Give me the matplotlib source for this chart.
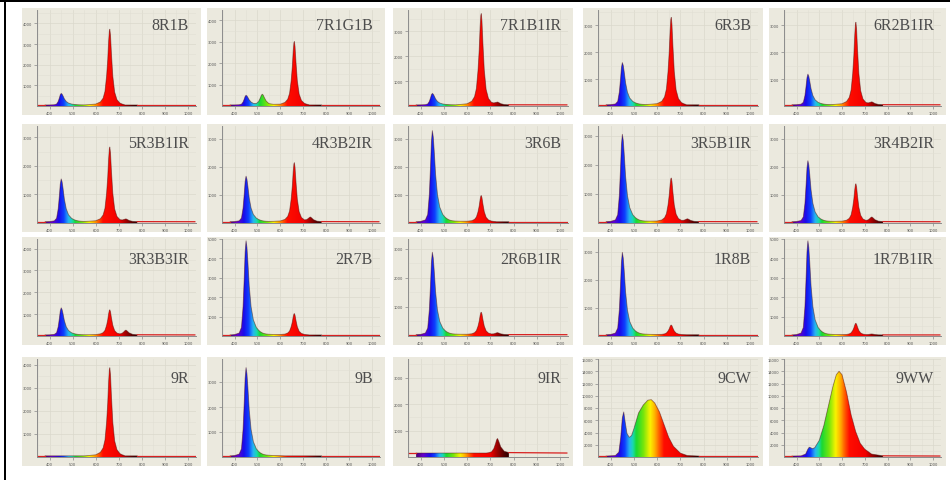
import numpy as np
import matplotlib.pyplot as plt
from matplotlib.colors import LinearSegmentedColormap
from matplotlib.patches import Polygon, Rectangle
from matplotlib.ticker import MultipleLocator

# panel names, read row by row
names = ["8R1B", "7R1G1B", "7R1B1IR", "6R3B", "6R2B1IR",
         "5R3B1IR", "4R3B2IR", "3R6B", "3R5B1IR", "3R4B2IR",
         "3R3B3IR", "2R7B", "2R6B1IR", "1R8B", "1R7B1IR",
         "9R", "9B", "9IR", "9CW", "9WW"]

# y axis top and tick step (counts)
ymax = [4650, 4480, 3850, 3570, 3570, 3400, 3450, 3450, 3330, 3450,
        4440, 5000, 3330, 3450, 5000, 4260, 3920, 3700, 16000, 16000]
ystep = [1000, 1000, 1000, 1000, 1000, 1000, 1000, 1000, 1000, 1000,
         1000, 1000, 1000, 1000, 1000, 1000, 1000, 1000, 2000, 2000]

# peak heights above baseline (counts) for each LED type
blue_h = [560, 450, 460, 1570, 1140, 1500, 1620, 3240, 3000, 2170,
          1240, 4850, 2830, 2930, 4850, 0, 3530, 0, 0, 0]
green_h = [0, 490, 0, 0, 0, 0, 0, 0, 0, 0,
           0, 0, 0, 0, 0, 0, 0, 0, 0, 0]
red_h = [3670, 2960, 3660, 3250, 3070, 2620, 2100, 930, 1500, 1350,
         1150, 1100, 770, 345, 600, 3830, 0, 0, 0, 0]
ir_h = [0, 0, 115, 0, 110, 100, 170, 0, 100, 170,
        220, 0, 70, 0, 50, 0, 0, 550, 0, 0]
base = [50, 50, 45, 45, 45, 45, 45, 45, 45, 45,
        50, 55, 45, 45, 55, 50, 45, 150, 160, 160]

# wavelength grid (nm) and relative LED shapes on it
wl = [350, 380, 400, 420, 430, 437, 442, 446, 450, 454, 458, 464, 472, 482, 495, 505,
      512, 517, 521, 525, 530, 538, 550, 570, 600, 620, 632, 640, 647, 652, 656, 659,
      661, 664, 668, 674, 682, 692, 705, 715, 722, 727, 731, 736, 745, 760, 780, 1030]
blue_shape = [0, 0, 0.004, 0.02, 0.08, 0.3, 0.6, 0.88, 1.0, 0.93, 0.78, 0.52, 0.3, 0.16, 0.08, 0.05,
              0.035, 0.028, 0.022, 0.018, 0.014, 0.01, 0.007, 0.004, 0.002, 0, 0, 0, 0, 0, 0, 0,
              0, 0, 0, 0, 0, 0, 0, 0, 0, 0, 0, 0, 0, 0, 0, 0]
green_shape = [0, 0, 0, 0, 0, 0, 0, 0, 0, 0, 0, 0, 0, 0, 0.06, 0.28,
               0.62, 0.9, 1.0, 0.92, 0.68, 0.36, 0.12, 0.03, 0, 0, 0, 0, 0, 0, 0, 0,
               0, 0, 0, 0, 0, 0, 0, 0, 0, 0, 0, 0, 0, 0, 0, 0]
red_shape = [0, 0, 0, 0, 0, 0, 0, 0, 0, 0, 0, 0, 0, 0, 0, 0,
             0, 0, 0, 0, 0, 0, 0, 0.004, 0.012, 0.04, 0.09, 0.18, 0.38, 0.6, 0.85, 0.98,
             1.0, 0.92, 0.68, 0.38, 0.17, 0.07, 0.025, 0.012, 0.006, 0, 0, 0, 0, 0, 0, 0]
ir_shape = [0, 0, 0, 0, 0, 0, 0, 0, 0, 0, 0, 0, 0, 0, 0, 0,
            0, 0, 0, 0, 0, 0, 0, 0, 0, 0, 0, 0, 0, 0, 0, 0,
            0, 0, 0, 0, 0, 0.02, 0.08, 0.3, 0.62, 0.9, 1.0, 0.82, 0.42, 0.12, 0.03, 0]

# white LED spectra (counts)
cw_wl = [350, 380, 420, 435, 443, 450, 456, 462, 470, 480, 490, 500, 520, 540, 560, 575,
         590, 610, 630, 650, 670, 700, 730, 780, 1030]
cw_val = [160, 160, 240, 800, 3200, 6400, 7360, 5760, 3840, 3200, 3520, 4640, 7200, 8480, 9280, 9360,
          8800, 7360, 5280, 3200, 1760, 640, 240, 160, 160]
ww_wl = [350, 380, 420, 440, 450, 456, 462, 470, 480, 500, 520, 540, 560, 575, 587, 600,
         620, 640, 660, 680, 700, 730, 780, 1030]
ww_val = [160, 160, 190, 480, 1280, 1600, 1520, 1360, 1520, 2720, 5120, 8320, 11520, 13440, 14000, 13440,
          10560, 6880, 4160, 2240, 1280, 480, 190, 160]

# layout in pixels
col_x = [(22, 201), (207, 385), (393, 573), (583, 763), (769, 946)]
row_y = [(9, 116), (125, 233), (238, 346), (358, 467)]
label_off = [21, 23, 26, 25]

W, H = 950, 481
panel_bg = "#EBE9DE"

stops = [(380, (0.30, 0.0, 0.45)), (410, (0.40, 0.0, 0.80)), (440, (0.10, 0.05, 0.92)),
         (460, (0.05, 0.25, 1.0)), (480, (0.15, 0.70, 0.95)), (495, (0.10, 0.85, 0.70)),
         (510, (0.10, 0.85, 0.20)), (540, (0.45, 0.90, 0.05)), (570, (0.98, 0.95, 0.0)),
         (590, (1.0, 0.70, 0.0)), (610, (1.0, 0.35, 0.0)), (630, (1.0, 0.05, 0.0)),
         (700, (0.95, 0.0, 0.0)), (730, (0.62, 0.0, 0.0)), (760, (0.32, 0.0, 0.0)),
         (780, (0.18, 0.0, 0.0))]
spec_cmap = LinearSegmentedColormap.from_list("spec", [((w - 380) / 400, c) for w, c in stops])
grad = np.linspace(380, 780, 400)[None, :]


def rect(x0, y0, x1, y1):
    return [x0 / W, 1 - y1 / H, (x1 - x0) / W, (y1 - y0) / H]


fig = plt.figure(figsize=(9.5, 4.81), dpi=100)
fig.patch.set_facecolor("white")

for i, name in enumerate(names):
    r, c = divmod(i, 5)
    L, R = col_x[c]
    T, B = row_y[r]

    bg = fig.add_axes(rect(L, T, R, B))
    bg.set_facecolor(panel_bg)
    bg.set_xticks([])
    bg.set_yticks([])
    for s in bg.spines.values():
        s.set_visible(False)

    ax = fig.add_axes(rect(L + 15, T + 2, R - 5, B - 9))
    ax.set_facecolor("none")

    if name == "9CW":
        x, y = np.array(cw_wl), np.array(cw_val, dtype=float)
    elif name == "9WW":
        x, y = np.array(ww_wl), np.array(ww_val, dtype=float)
    else:
        x = np.array(wl)
        y = (base[i] + blue_h[i] * np.array(blue_shape) + green_h[i] * np.array(green_shape)
             + red_h[i] * np.array(red_shape) + ir_h[i] * np.array(ir_shape))

    vis = (x >= 380) & (x <= 780)
    verts = [(380, 0)] + list(zip(x[vis], y[vis])) + [(780, 0)]
    poly = Polygon(verts, closed=True, fc="none", ec="none")
    ax.add_patch(poly)
    im = ax.imshow(grad, extent=[380, 780, 0, ymax[i]], aspect="auto", cmap=spec_cmap,
                   vmin=380, vmax=780, origin="lower", zorder=2)
    im.set_clip_path(poly)
    ax.plot(x[vis], y[vis], color="#4A0808", lw=0.6, alpha=0.5, zorder=3)
    ax.plot(x[x >= 780], y[x >= 780], color="#D82020", lw=0.9, zorder=3)
    ax.plot(x[x <= 380], y[x <= 380], color="#D82020", lw=0.9, zorder=3)

    ax.set_xlim(345, 1035)
    ax.set_ylim(0, ymax[i])
    ax.set_xticks(range(400, 1001, 100))
    ax.set_xticklabels([str(v) for v in range(400, 1001, 100)])
    yt = np.arange(ystep[i], ymax[i] + 1, ystep[i])
    ax.set_yticks(yt)
    ax.set_yticklabels([str(int(v)) for v in yt])
    ax.xaxis.set_minor_locator(MultipleLocator(50))
    ax.yaxis.set_minor_locator(MultipleLocator(ystep[i] / 2))
    ax.grid(True, which="major", color="#DAD8CC", lw=0.5, zorder=0)
    ax.grid(True, which="minor", color="#E1DFD4", lw=0.4, zorder=0)
    ax.tick_params(which="major", length=2, width=0.5, color="#888888", pad=1.5,
                   labelsize=2.6, labelcolor="#555555")
    ax.tick_params(which="minor", length=0)
    for s in ["top", "right"]:
        ax.spines[s].set_visible(False)
    for s in ["left", "bottom"]:
        ax.spines[s].set_color("#8C8C8C")
        ax.spines[s].set_linewidth(0.7)

    fig.text((R - 12) / W, 1 - (T + label_off[r]) / H, name, ha="right", va="baseline",
             fontsize=11.5, family="Liberation Serif", color="#4D4D4D")

# black frame edges of the original screenshot
fig.add_artist(Rectangle((0, 1 - 3 / H), 1, 3 / H, transform=fig.transFigure,
                         color="black", lw=0))
fig.add_artist(Rectangle((4 / W, 0), 2 / W, 1, transform=fig.transFigure,
                         color="black", lw=0))

fig.savefig("out.png", dpi=100, facecolor="white")
